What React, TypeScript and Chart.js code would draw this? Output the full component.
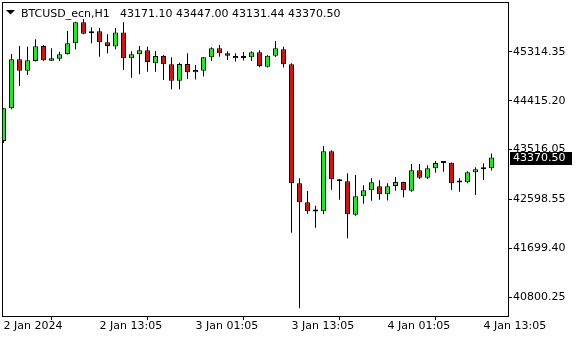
import React, { useEffect, useRef } from 'react';
import { Chart, registerables } from 'chart.js';

Chart.register(...registerables);

const SYMBOL = 'BTCUSD_ecn,H1';
const xTickIndex = [0, 12, 24, 36, 48, 60];
const xTickLabels = ['2 Jan 2024', '2 Jan 13:05', '3 Jan 01:05', '3 Jan 13:05', '4 Jan 01:05', '4 Jan 13:05'];
const yTicks = [45314.35, 44415.2, 43516.05, 42598.55, 41699.4, 40800.25];

const opens = [
  43674, 44277, 45180, 44970, 45149, 45425, 45154, 45191, 45278, 45475,
  45862, 45659, 45696, 45493, 45416, 45673, 45198, 45272, 45346, 45106,
  45241, 45088, 44786, 45093, 44940, 44970, 45217, 45383, 45290, 45241,
  45213, 45216, 45309, 45044, 45246, 45364, 45088, 42896, 42546, 42385,
  42380, 43485, 42969, 42932, 42317, 42656, 42766, 42840, 42693, 42846,
  42919, 42759, 43135, 42999, 43172, 43275, 43275, 42918, 42914, 43098,
  43154, 43171.1,
];
const highs = [
  44280, 45278, 45425, 45412, 45548, 45443, 45383, 45320, 45701, 45870,
  45920, 45769, 45756, 45640, 45756, 45862, 45327, 45425, 45412, 45333,
  45259, 45217, 45117, 45290, 45075, 45220, 45400, 45443, 45329, 45290,
  45314, 45330, 45346, 45259, 45517, 45412, 45106, 42988, 42754, 42483,
  43583, 43504, 42975, 43080, 43049, 42859, 42988, 42951, 42896, 43012,
  42925, 43251, 43251, 43227, 43307, 43280, 43280, 42988, 43117, 43190,
  43264, 43447.0,
];
const lows = [
  43637, 44260, 44688, 44891, 45140, 45150, 45150, 45149, 45270, 45364,
  45640, 45475, 45228, 45290, 45364, 44983, 44841, 44904, 44951, 44951,
  44799, 44627, 44627, 44817, 44808, 44861, 45150, 45228, 45167, 45139,
  45158, 45148, 45032, 45030, 45222, 45029, 41986, 40593, 42336, 42078,
  42325, 42778, 42594, 41883, 42299, 42520, 42575, 42593, 42579, 42759,
  42638, 42741, 42975, 42975, 43091, 43109, 42772, 42741, 42896, 42680,
  42957, 43131.44,
];
const closes = [
  44277, 45180, 44970, 45162, 45419, 45162, 45198, 45272, 45475, 45862,
  45651, 45696, 45493, 45425, 45673, 45198, 45272, 45346, 45130, 45241,
  45088, 44786, 45093, 44940, 44983, 45217, 45383, 45290, 45244, 45198,
  45206, 45309, 45057, 45246, 45382, 45088, 42896, 42546, 42380, 42378,
  43485, 42969, 42932, 42325, 42656, 42766, 42914, 42693, 42840, 42919,
  42766, 43135, 42999, 43172, 43270, 43270, 42896, 42910, 43098, 43154,
  43172, 43370.5,
];

const FONT = { family: 'DejaVu Sans', size: 11 };

export default function App() {
  const ref = useRef<HTMLCanvasElement | null>(null);

  useEffect(() => {
    const canvas = ref.current;
    if (!canvas) return;
    const n = closes.length;
    const last = n - 1;
    const titleNums = [opens[last], highs[last], lows[last], closes[last]].map((v) => v.toFixed(2)).join(' ');

    const overlay = {
      id: 'mtOverlay',
      beforeDraw(chart: any) {
        const { ctx } = chart;
        ctx.save();
        ctx.fillStyle = '#ffffff';
        ctx.fillRect(0, 0, chart.width, chart.height);
        ctx.restore();
      },
      afterDraw(chart: any) {
        const { ctx, chartArea: a, scales } = chart;
        ctx.save();
        ctx.strokeStyle = '#000';
        ctx.lineWidth = 1;
        ctx.strokeRect(a.left - 0.5, a.top - 0.5, a.right - a.left + 1, a.bottom - a.top + 1);
        // title
        ctx.fillStyle = '#000';
        ctx.beginPath();
        ctx.moveTo(6, 10);
        ctx.lineTo(15, 10);
        ctx.lineTo(10.5, 14.5);
        ctx.closePath();
        ctx.fill();
        ctx.font = '11px "DejaVu Sans"';
        ctx.textBaseline = 'alphabetic';
        ctx.textAlign = 'left';
        ctx.fillText(SYMBOL, 21, 17);
        ctx.fillText(titleNums, 120, 17);
        // current price box
        const y = scales.y.getPixelForValue(closes[last]);
        const yy = Math.round(y);
        ctx.fillStyle = '#000';
        ctx.fillRect(510, yy - 6, 62, 13);
        ctx.fillStyle = '#fff';
        ctx.textBaseline = 'middle';
        ctx.fillText(closes[last].toFixed(2), 513, yy + 0.5);
        ctx.restore();
      },
    };

    const bodies = closes.map((c, i) => ({ x: i, y: [opens[i], c] }));
    const wicks = closes.map((_, i) => ({ x: i, y: [lows[i], highs[i]] }));
    const bodyColors = closes.map((c, i) => (c >= opens[i] ? '#00ff00' : '#ff0000'));

    const chart = new Chart(canvas, {
      type: 'bar',
      data: {
        datasets: [
          {
            data: bodies as any,
            backgroundColor: bodyColors,
            borderColor: '#000',
            borderWidth: 1,
            borderSkipped: false,
            barThickness: 5,
            maxBarThickness: 5,
            minBarLength: 2,
            grouped: false,
            inflateAmount: 0,
            clip: 0,
            order: 0,
          } as any,
          {
            data: wicks as any,
            backgroundColor: '#000',
            borderWidth: 0,
            barThickness: 1,
            maxBarThickness: 1,
            grouped: false,
            inflateAmount: 0,
            clip: 0,
            order: 1,
          } as any,
        ],
      },
      options: {
        animation: false,
        responsive: false,
        events: [],
        layout: { padding: { left: 3, top: 3, right: 0, bottom: 0 } },
        plugins: { legend: { display: false }, tooltip: { enabled: false } },
        scales: {
          x: {
            type: 'linear',
            position: 'bottom',
            min: -0.0625,
            max: 63.0625,
            offset: false,
            grid: { drawOnChartArea: false, drawTicks: true, tickLength: 4, color: '#000' },
            border: { display: false },
            ticks: {
              align: 'start',
              padding: 0,
              color: '#000',
              font: FONT,
              autoSkip: false,
              maxRotation: 0,
              minRotation: 0,
              callback: (v: any) => {
                const k = xTickIndex.indexOf(Number(v));
                return k >= 0 ? xTickLabels[k] : '';
              },
            },
            afterBuildTicks: (scale: any) => {
              scale.ticks = xTickIndex.map((v) => ({ value: v }));
            },
            afterFit: (scale: any) => {
              scale.height = 24;
              scale.paddingLeft = 0;
              scale.paddingRight = 0;
            },
          },
          y: {
            type: 'linear',
            position: 'right',
            min: 40451.5,
            max: 46216.9,
            grid: { drawOnChartArea: false, drawTicks: true, tickLength: 4, color: '#000' },
            border: { display: false },
            ticks: {
              padding: 1,
              color: '#000',
              font: FONT,
              autoSkip: false,
              callback: (v: any) => Number(v).toFixed(2),
            },
            afterBuildTicks: (scale: any) => {
              scale.ticks = yTicks.map((v) => ({ value: v }));
            },
            afterFit: (scale: any) => {
              scale.width = 72;
              scale.paddingTop = 0;
              scale.paddingBottom = 0;
            },
          },
        },
      } as any,
      plugins: [overlay],
    });
    return () => chart.destroy();
  }, []);

  return (
    <div style={{ position: 'fixed', left: 0, top: 0, width: 580, height: 340, background: '#fff' }}>
      <canvas ref={ref} width={580} height={340} style={{ display: 'block' }} />
    </div>
  );
}
